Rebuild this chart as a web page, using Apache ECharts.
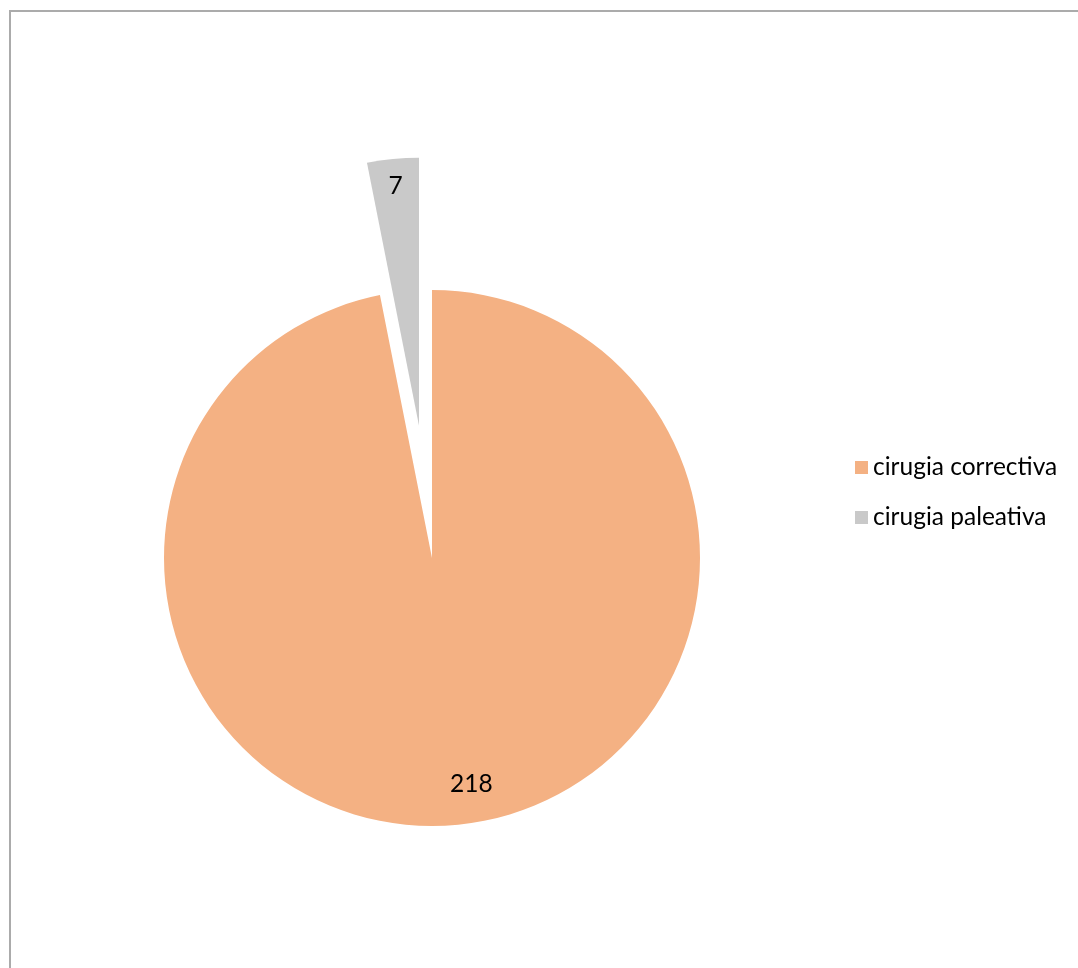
<!DOCTYPE html>
<html>
<head>
<meta charset="utf-8">
<script src="https://cdn.jsdelivr.net/npm/echarts@6/dist/echarts.min.js"></script>
<style>
    html, body { margin: 0; padding: 0; background: #fff; }
    #frame {
        position: absolute; left: 9px; top: 10px; width: 1100px; height: 1000px;
        border-left: 2px solid #ababab; border-top: 2px solid #ababab;
    }
    #main-chart { position: absolute; left: 0; top: 0; width: 1078px; height: 968px; }
</style>
</head>
<body>
<div id="frame"></div>
<div id="main-chart"></div>
<script>
// Chart data
const categories = ['cirugia correctiva', 'cirugia paleativa'];
const values = [218, 7];
const colors = ['#F4B183', '#C9C9C9'];
const explodedIndex = 1;

// Label nudges (Excel places the labels further out than the pie midpoint)
const labelShift = [[26, 90], [-10, -103]];

const myChart = echarts.init(document.getElementById('main-chart'));

const option = {
    backgroundColor: 'transparent',
    animation: false,
    legend: {
        orient: 'vertical',
        left: 850,
        top: 450,
        itemWidth: 13,
        itemHeight: 13,
        itemGap: 25,
        itemTextGap: 10,
        icon: 'rect',
        data: categories,
        textStyle: { color: '#000', fontSize: 24.5, fontFamily: 'Lato' }
    },
    series: [{
        type: 'pie',
        center: [432, 558],
        radius: 268,
        startAngle: 90,
        clockwise: true,
        selectedMode: 'single',
        selectedOffset: 133,
        emphasis: { disabled: true },
        label: {
            show: true,
            position: 'inside',
            formatter: '{c}',
            color: '#000',
            fontSize: 24.5,
            fontFamily: 'Lato'
        },
        labelLine: { show: false },
        labelLayout: (p) => ({ dx: labelShift[p.dataIndex][0], dy: labelShift[p.dataIndex][1] }),
        data: categories.map((name, i) => ({
            name: name,
            value: values[i],
            selected: i === explodedIndex,
            itemStyle: { color: colors[i] }
        }))
    }]
};

myChart.setOption(option);
</script>
</body>
</html>
